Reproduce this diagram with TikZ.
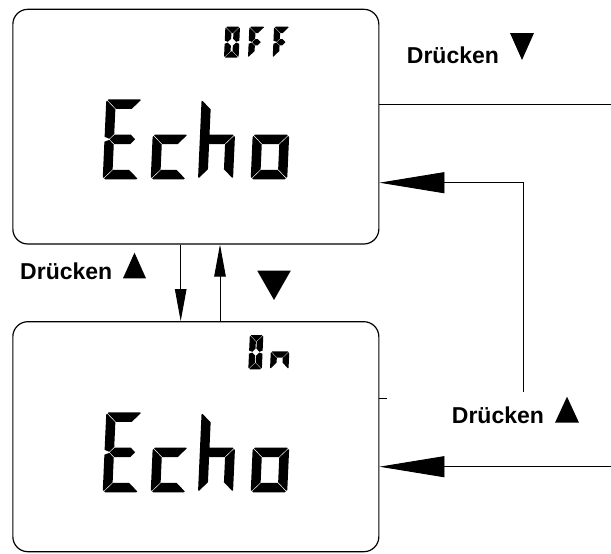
\documentclass[tikz,border=0pt]{standalone}
\usepackage{fontspec}
\setmainfont{Liberation Sans}
\usetikzlibrary{arrows.meta}

% --- seven-segment LCD glyphs -------------------------------------------
% \lcdglyph{x}{baseline}{width}{height}{stroke}{segment macros}
% segments meet at mitred corners with a small chamfer and a thin gap
\newcommand\lcdglyph[6]{%
  \begin{scope}[shift={(#1,#2)}, x=1pt, y=1pt, xslant=0.045]
    \pgfmathsetmacro\lW{#3}\pgfmathsetmacro\lH{#4}\pgfmathsetmacro\lT{#5}%
    \pgfmathsetmacro\lc{#5*0.25}\pgfmathsetmacro\lgp{#5*0.06}%
    \pgfmathsetmacro\lm{#5*0.2}%
    #6
  \end{scope}}
\newcommand\segA{\fill[lcd] (\lc,\lH) -- ({\lW-\lc},\lH)
  -- ({\lW-(\lc+\lgp)/2},{\lH-(\lc-\lgp)/2}) -- ({\lW-\lT-\lgp},{\lH-\lT})
  -- ({\lT+\lgp},{\lH-\lT}) -- ({(\lc+\lgp)/2},{\lH-(\lc-\lgp)/2}) -- cycle;}
\newcommand\segD{\fill[lcd] (\lc,0) -- ({\lW-\lc},0)
  -- ({\lW-(\lc+\lgp)/2},{(\lc-\lgp)/2}) -- ({\lW-\lT-\lgp},\lT)
  -- ({\lT+\lgp},\lT) -- ({(\lc+\lgp)/2},{(\lc-\lgp)/2}) -- cycle;}
\newcommand\segF{\fill[lcd] (0,{\lH-\lc}) -- ({(\lc-\lgp)/2},{\lH-(\lc+\lgp)/2})
  -- (\lT,{\lH-\lT-\lgp}) -- (\lT,{\lH/2+\lT/2+\lgp}) -- ({\lT/2},{\lH/2+\lgp})
  -- (0,{\lH/2+\lgp+\lm}) -- cycle;}
\newcommand\segE{\fill[lcd] (0,\lc) -- ({(\lc-\lgp)/2},{(\lc+\lgp)/2})
  -- (\lT,{\lT+\lgp}) -- (\lT,{\lH/2-\lT/2-\lgp}) -- ({\lT/2},{\lH/2-\lgp})
  -- (0,{\lH/2-\lgp-\lm}) -- cycle;}
\newcommand\segB{\fill[lcd] (\lW,{\lH-\lc}) -- ({\lW-(\lc-\lgp)/2},{\lH-(\lc+\lgp)/2})
  -- ({\lW-\lT},{\lH-\lT-\lgp}) -- ({\lW-\lT},{\lH/2+\lT/2+\lgp})
  -- ({\lW-\lT/2},{\lH/2+\lgp}) -- (\lW,{\lH/2+\lgp+\lm}) -- cycle;}
\newcommand\segC{\fill[lcd] (\lW,\lc) -- ({\lW-(\lc-\lgp)/2},{(\lc+\lgp)/2})
  -- ({\lW-\lT},{\lT+\lgp}) -- ({\lW-\lT},{\lH/2-\lT/2-\lgp})
  -- ({\lW-\lT/2},{\lH/2-\lgp}) -- (\lW,{\lH/2-\lgp-\lm}) -- cycle;}
\newcommand\segG{\fill[lcd] ({\lT/2+\lgp},{\lH/2}) -- ({\lT+\lgp},{\lH/2+\lT/2})
  -- ({\lW-\lT-\lgp},{\lH/2+\lT/2}) -- ({\lW-\lT/2-\lgp},{\lH/2})
  -- ({\lW-\lT-\lgp},{\lH/2-\lT/2}) -- ({\lT+\lgp},{\lH/2-\lT/2}) -- cycle;}
% full-height left / right strokes (mitred at both ends)
\newcommand\segL{\fill[lcd] (0,\lc) -- ({(\lc-\lgp)/2},{(\lc+\lgp)/2})
  -- (\lT,{\lT+\lgp}) -- (\lT,{\lH-\lT-\lgp}) -- ({(\lc-\lgp)/2},{\lH-(\lc+\lgp)/2})
  -- (0,{\lH-\lc}) -- cycle;}
\newcommand\segR{\fill[lcd] (\lW,\lc) -- ({\lW-(\lc-\lgp)/2},{(\lc+\lgp)/2})
  -- ({\lW-\lT},{\lT+\lgp}) -- ({\lW-\lT},{\lH-\lT-\lgp})
  -- ({\lW-(\lc-\lgp)/2},{\lH-(\lc+\lgp)/2}) -- (\lW,{\lH-\lc}) -- cycle;}
% capital letters (full cell)
\newcommand\glE{\segA\segF\segG\segE\segD}
\newcommand\glO{\segA\segB\segC\segD\segE\segF}
\newcommand\glF{\segA\segF\segG\segE}
% lower-case letters (drawn in the lower half cell)
\newcommand\glc{\segA\segL\segD}
\newcommand\glo{\segA\segL\segR\segD}
\newcommand\gln{\segA\segL\segR}
\newcommand\glhump{\segA\segR}

% filled pointer triangles: centre x, top y, width, height
\newcommand\uptri[4]{\fill ({#1-#3/2},{#2+#4}) -- (#1,#2) -- ({#1+#3/2},{#2+#4}) -- cycle;}
\newcommand\downtri[4]{\fill ({#1-#3/2},#2) -- (#1,{#2+#4}) -- ({#1+#3/2},#2) -- cycle;}

% one "Echo" word: left x, baseline
\newcommand\echo[2]{%
  \lcdglyph{#1}{#2}{36}{80}{9.5}{\glE}
  \lcdglyph{#1+48}{#2}{35.5}{44.75}{9.5}{\glc}
  \lcdglyph{#1+95.3}{#2}{9.5}{80}{9.5}{\segL}
  \lcdglyph{#1+95.3}{#2}{35}{44.75}{9.5}{\glhump}
  \lcdglyph{#1+148}{#2}{36.5}{44.75}{9.5}{\glo}}

\tikzset{
  lcd/.style={fill=black},
  display/.style={draw, line width=1.2pt, rounded corners=15pt, inner sep=0pt,
    minimum width=366pt},
  link/.style={line width=0.9pt},
  bigarrow/.style={link, -{Triangle[length=65pt,width=21pt]}},
  smallarrow/.style={link, -{Triangle[length=32pt,width=11.5pt]}},
  press/.style={font=\bfseries\fontsize{23}{23}\selectfont, inner sep=0pt, anchor=base west},
}

\begin{document}
\begin{tikzpicture}[x=1pt, y=-1pt]
  \useasboundingbox (0,0) rectangle (611,554);

  % the two display screens
  \node[display, minimum height=234.7pt] (off) at (195.85,126.65) {};
  \node[display, minimum height=230pt] (on) at (195.85,436.7) {};

  % screen contents: OFF / Echo
  \lcdglyph{224}{57.7}{14.6}{31}{6.3}{\glO}
  \lcdglyph{248}{57.7}{15.6}{31}{6.3}{\glF}
  \lcdglyph{272.7}{57.7}{15.6}{31}{6.3}{\glF}
  \echo{102.7}{179.3}

  % screen contents: On / Echo
  \lcdglyph{248.3}{369.3}{13.5}{34.3}{6.3}{\glO}
  \lcdglyph{270}{369.3}{18.5}{18}{6.3}{\gln}
  \echo{102.7}{492.3}

  % connector anchor points
  \coordinate (outTop) at (611,104);
  \coordinate (loopBottom) at (523,392);
  \coordinate (loopTop) at (523,182.7);
  \coordinate (inBottom) at (611,466.7);
  \coordinate (tick) at (386.7,398.3);
  \coordinate (downX) at (180.7,0);
  \coordinate (upX) at (220,0);

  % connectors on the right
  \draw[link] (off.east |- outTop) -- (outTop);
  \draw[bigarrow] (loopBottom) -- (loopTop) -- (loopTop -| off.east);
  \draw[bigarrow] (inBottom) -- (inBottom -| on.east);
  \draw[link] (on.east |- tick) -- (tick);

  % connectors between the screens
  \draw[smallarrow] (off.south -| downX) -- (on.north -| downX);
  \draw[smallarrow] (on.north -| upX) -- (off.south -| upX);

  % key labels
  \node[press] (pressDownTop) at (406.7,63.3) {Drücken};
  \downtri{522}{33}{24}{27}
  \node[press] (pressUpLeft) at (20,279.3) {Drücken};
  \uptri{134.5}{252.7}{23}{25.6}
  \node[press] (pressUpRight) at (451.7,423.3) {Drücken};
  \uptri{567}{396.7}{24}{26}
  \downtri{274}{270.7}{33.5}{29.3}
\end{tikzpicture}
\end{document}
